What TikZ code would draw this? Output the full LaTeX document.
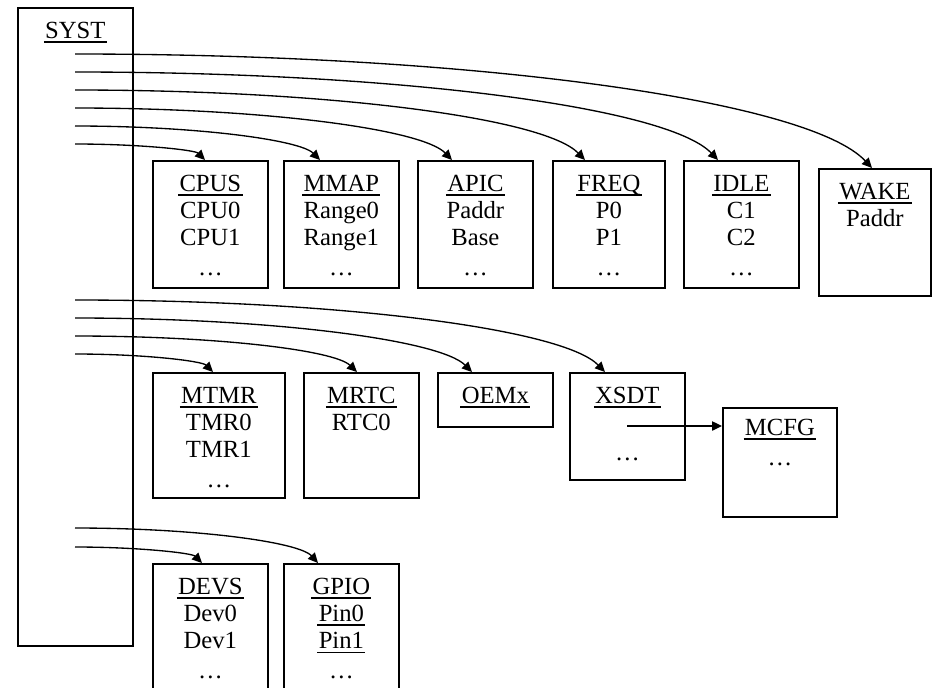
\documentclass[tikz,border=0pt]{standalone}
\usepackage{fontspec}
\setmainfont{Liberation Serif}
\usetikzlibrary{arrows.meta,calc}

% underlined table name
\newcommand{\tblname}[1]{\setbox0\hbox{#1}\rlap{\hspace{-1pt}\raisebox{-3.4pt}{\rule{\dimexpr\wd0+2pt\relax}{1.3pt}}}\box0}

\begin{document}
\begin{tikzpicture}[x=0.75pt, y=0.75pt,
    every node/.style={font=\fontsize{18.5}{20.5}\selectfont},
    tbl/.style={draw, line width=1.3pt, inner sep=0pt, anchor=north west,
      minimum width=115*0.75pt, minimum height=127*0.75pt},
    body/.style={anchor=north, align=center, inner sep=0pt, yshift=-11pt},
    link/.style={line width=1pt, -{Triangle[length=7.5pt,width=7pt]}}]
  \useasboundingbox (0,0) rectangle (932,-687);
  \begin{scope}
  \clip (0,0) rectangle (932,-687);

  \node[tbl, minimum height=638*0.75pt, label={[body]north:\tblname{SYST}}] (syst) at (17,-7) {};

  % first row
  \node[tbl, label={[body]north:{\tblname{CPUS}\\CPU0\\CPU1\\[2pt]\dots}}] (cpus) at (152,-160) {};
  \node[tbl, label={[body]north:{\tblname{MMAP}\\Range0\\Range1\\[2pt]\dots}}] (mmap) at (283,-160) {};
  \node[tbl, label={[body]north:{\tblname{APIC}\\Paddr\\Base\\[2pt]\dots}}] (apic) at (417,-160) {};
  \node[tbl, minimum width=112*0.75pt, label={[body]north:{\tblname{FREQ}\\P0\\P1\\[2pt]\dots}}] (freq) at (552,-160) {};
  \node[tbl, label={[body]north:{\tblname{IDLE}\\C1\\C2\\[2pt]\dots}}] (idle) at (683,-160) {};
  \node[tbl, minimum width=112*0.75pt, label={[body]north:{\tblname{WAKE}\\Paddr}}] (wake) at (818,-168) {};

  % second row
  \node[tbl, minimum width=132*0.75pt, minimum height=125*0.75pt,
        label={[body]north:{\tblname{MTMR}\\TMR0\\TMR1\\[2pt]\dots}}] (mtmr) at (152,-372) {};
  \node[tbl, minimum height=125*0.75pt, label={[body]north:{\tblname{MRTC}\\RTC0}}] (mrtc) at (303,-372) {};
  \node[tbl, minimum height=54*0.75pt, label={[body]north:\tblname{OEMx}}] (oemx) at (437,-372) {};
  \node[tbl, minimum height=107*0.75pt, label={[body]north:{\tblname{XSDT}\\\mbox{}\\[2pt]\dots}}] (xsdt) at (569,-372) {};
  \node[tbl, minimum width=114*0.75pt, minimum height=109*0.75pt,
        label={[body, yshift=2pt]north:{\tblname{MCFG}\\[2pt]\dots}}] (mcfg) at (722,-407) {};

  % third row
  \node[tbl, minimum height=140*0.75pt, label={[body]north:{\tblname{DEVS}\\Dev0\\Dev1\\[2pt]\dots}}] (devs) at (152,-563) {};
  \node[tbl, minimum height=140*0.75pt,
        label={[body]north:{\tblname{GPIO}\\\tblname{Pin0}\\\tblname{Pin1}\\[2pt]\dots}}] (gpio) at (283,-563) {};

  % pointers out of SYST
  \coordinate (pwake) at (75,-54);
  \coordinate (pidle) at (75,-72);
  \coordinate (pfreq) at (75,-90);
  \coordinate (papic) at (75,-108);
  \coordinate (pmmap) at (75,-126);
  \coordinate (pcpus) at (75,-144);
  \coordinate (pxsdt) at (75,-300);
  \coordinate (poemx) at (75,-318);
  \coordinate (pmrtc) at (75,-336);
  \coordinate (pmtmr) at (75,-354);
  \coordinate (pgpio) at (75,-528);
  \coordinate (pdevs) at (75,-547);
  \coordinate (pmcfg) at (627,-426);

  \draw[link] (pwake) .. controls +(398,0) and +(-64,68) .. ($(wake.north west)+(54,0)$);
  \draw[link] (pidle) .. controls +(322,0) and +(-51,53) .. ($(idle.north west)+(35,0)$);
  \draw[link] (pfreq) .. controls +(255,0) and +(-41,42) .. ($(freq.north west)+(33,0)$);
  \draw[link] (papic) .. controls +(188,0) and +(-30,31) .. ($(apic.north west)+(35,0)$);
  \draw[link] (pmmap) .. controls +(122,0) and +(-20,20) .. ($(mmap.north west)+(37,0)$);
  \draw[link] (pcpus) .. controls +(65,0) and +(-10,10) .. ($(cpus.north west)+(53,0)$);

  \draw[link] (pxsdt) .. controls +(265,0) and +(-42,43) .. ($(xsdt.north west)+(36,0)$);
  \draw[link] (poemx) .. controls +(198,0) and +(-32,32) .. ($(oemx.north west)+(35,0)$);
  \draw[link] (pmrtc) .. controls +(141,0) and +(-23,22) .. ($(mrtc.north west)+(54,0)$);
  \draw[link] (pmtmr) .. controls +(69,0) and +(-11,11) .. ($(mtmr.north west)+(61,0)$);

  \draw[link] (pgpio) .. controls +(121,0) and +(-19,21) .. ($(gpio.north west)+(35,0)$);
  \draw[link] (pdevs) .. controls +(63,0) and +(-10,10) .. ($(devs.north west)+(50,0)$);

  \draw[link] (pmcfg) -- (pmcfg -| mcfg.west);
  \end{scope}
\end{tikzpicture}
\end{document}
